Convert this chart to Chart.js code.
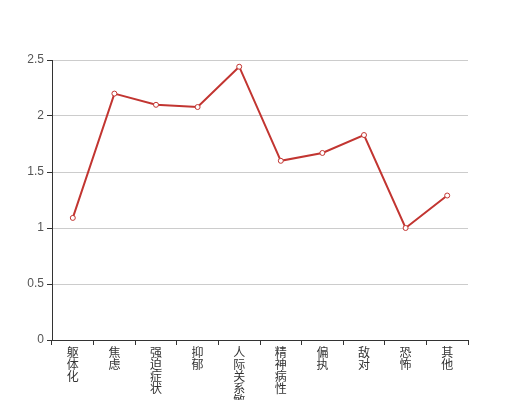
<!DOCTYPE html>
<html>
<head>
<meta charset="utf-8">
<script src="https://cdn.jsdelivr.net/npm/chart.js@4/dist/chart.umd.min.js"></script>
<style>
  html, body { margin: 0; padding: 0; background: #fff; }
</style>
</head>
<body>
<canvas id="chart" width="520" height="400"></canvas>
<script>
const categories = ['躯体化', '焦虑', '强迫症状', '抑郁', '人际关系敏感', '精神病性', '偏执', '敌对', '恐怖', '其他']
const scores = [1.09, 2.2, 2.1, 2.08, 2.44, 1.6, 1.67, 1.83, 1.0, 1.29]
const yTicks = [0, 0.5, 1, 1.5, 2, 2.5]

// vertical labels: one character per line
const labels = categories.map(c => c.split(''))

const fontFamily = '"Liberation Sans", "Noto Sans CJK SC", sans-serif'

new Chart(document.getElementById('chart'), {
    type: 'line',
    data: {
        labels: labels,
        datasets: [{
            data: scores,
            borderColor: '#c23531',
            borderWidth: 2,
            backgroundColor: '#fff',
            pointRadius: 2.5,
            pointBorderWidth: 1,
            pointBackgroundColor: '#fff',
            pointBorderColor: '#c23531',
            tension: 0,
            fill: false
        }]
    },
    options: {
        responsive: false,
        animation: false,
        layout: { padding: { top: 60, right: 52, left: 0, bottom: 0 } },
        plugins: {
            legend: { display: false },
            tooltip: { enabled: false }
        },
        scales: {
            x: {
                offset: true,
                grid: {
                    offset: true,
                    drawOnChartArea: false,
                    drawTicks: true,
                    tickLength: 5,
                    tickColor: '#333'
                },
                border: { color: '#333', width: 1 },
                ticks: {
                    autoSkip: false,
                    maxRotation: 0,
                    minRotation: 0,
                    padding: 3,
                    color: '#333',
                    font: { family: fontFamily, size: 12, lineHeight: 1.0 }
                },
                afterFit: scale => { scale.height = 60 }
            },
            y: {
                min: 0,
                max: yTicks[yTicks.length - 1],
                afterBuildTicks: scale => { scale.ticks = yTicks.map(v => ({ value: v })) },
                grid: {
                    color: '#ccc',
                    tickColor: '#333',
                    tickLength: 5,
                    drawTicks: true
                },
                border: { color: '#333', width: 1 },
                ticks: {
                    padding: 3,
                    color: '#555',
                    font: { family: fontFamily, size: 12 },
                    callback: v => String(v)
                },
                afterFit: scale => { scale.width = 52 }
            }
        }
    }
})
</script>
</body>
</html>
